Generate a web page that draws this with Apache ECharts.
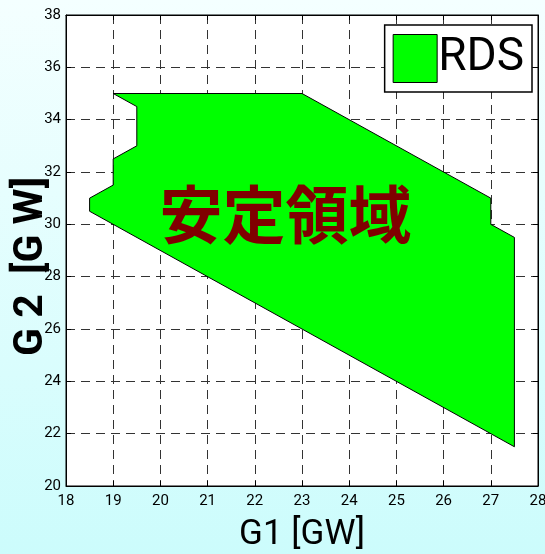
<!DOCTYPE html>
<html>
<head>
<meta charset="utf-8">
<script src="https://cdn.jsdelivr.net/npm/echarts@6/dist/echarts.min.js"></script>
<style>
html, body { margin: 0; padding: 0; }
#chart { width: 545px; height: 554px; }
</style>
</head>
<body>
<div id="chart"></div>
<script>
// 安定領域（RDS）の多角形頂点 [G1, G2]
var regionG1 = [19, 23, 27, 27, 27.5, 27.5, 18.5, 18.5, 19, 19, 19.5, 19.5];
var regionG2 = [35, 35, 31, 30, 29.5, 21.5, 30.5, 31, 31.5, 32.5, 33, 34.5];
var xTicks = [18, 28, 1];   // min, max, interval
var yTicks = [20, 38, 2];
var regionLabel = '安定領域';

var narrow = 'Roboto, "DejaVu Sans", sans-serif';
var points = regionG1.map(function (x, i) { return [x, regionG2[i]]; });

var chart = echarts.init(document.getElementById('chart'));
var gridLine = { show: true, lineStyle: { color: '#333', width: 1, type: [9, 6] } };

chart.setOption({
    backgroundColor: new echarts.graphic.LinearGradient(0, 0, 0, 1, [
        { offset: 0, color: '#f4ffff' },
        { offset: 1, color: '#ccfcfc' }
    ]),
    animation: false,
    grid: {
        left: 66, right: 7, top: 15, bottom: 68,
        outerBoundsMode: 'none', containLabel: false,
        show: true, backgroundColor: '#fff', borderColor: '#000', borderWidth: 1
    },
    legend: {
        right: 13, top: 25,
        orient: 'vertical',
        padding: [9, 8, 9, 8],
        itemWidth: 44, itemHeight: 48, itemGap: 0,
        backgroundColor: '#fff', borderColor: '#000', borderWidth: 1.5,
        selectedMode: false,
        data: [{ name: 'RDS', icon: 'rect', itemStyle: { color: '#00ff00', borderColor: '#000', borderWidth: 1 } }],
        textStyle: { fontFamily: narrow, fontSize: 46, color: '#000', padding: [0, 0, 0, -4] }
    },
    xAxis: [{
        type: 'value', min: xTicks[0], max: xTicks[1], interval: xTicks[2],
        name: 'G1 [GW]', nameLocation: 'middle', nameGap: 32,
        nameTextStyle: { fontFamily: narrow, fontSize: 35, color: '#000' },
        axisLine: { show: true, lineStyle: { color: '#000' } },
        axisTick: { show: true, inside: true, length: 5, lineStyle: { color: '#000' } },
        axisLabel: { fontFamily: narrow, fontSize: 15, color: '#000', margin: 8 },
        splitLine: gridLine
    }, {
        type: 'value', min: xTicks[0], max: xTicks[1], interval: xTicks[2], position: 'top',
        axisLine: { show: true, lineStyle: { color: '#000' } },
        axisTick: { show: true, inside: true, length: 5, lineStyle: { color: '#000' } },
        axisLabel: { show: false }, splitLine: { show: false }
    }],
    yAxis: [{
        type: 'value', min: yTicks[0], max: yTicks[1], interval: yTicks[2],
        name: 'G 2  [G W]', nameLocation: 'middle', nameGap: 14, nameMoveOverlap: false,
        nameTextStyle: { fontFamily: narrow, fontWeight: 'bold', fontSize: 41, color: '#000', padding: [0, 32, 0, 0] },
        axisLine: { show: true, lineStyle: { color: '#000' } },
        axisTick: { show: true, inside: true, length: 5, lineStyle: { color: '#000' } },
        axisLabel: { fontFamily: narrow, fontSize: 15, color: '#000', margin: 5 },
        splitLine: gridLine
    }, {
        type: 'value', min: yTicks[0], max: yTicks[1], interval: yTicks[2], position: 'right',
        axisLine: { show: true, lineStyle: { color: '#000' } },
        axisTick: { show: true, inside: true, length: 5, lineStyle: { color: '#000' } },
        axisLabel: { show: false }, splitLine: { show: false }
    }],
    series: [{
        name: 'RDS',
        type: 'custom',
        data: points,
        itemStyle: { color: '#00ff00' },
        renderItem: function (params, api) {
            if (params.context.rendered) return;
            params.context.rendered = true;
            var pts = points.map(function (p) { return api.coord(p); });
            var c = api.coord([22.65, 30.4]);
            return {
                type: 'group',
                children: [{
                    type: 'polygon',
                    shape: { points: pts },
                    style: { fill: '#00ff00', stroke: '#000', lineWidth: 1 }
                }, {
                    type: 'text',
                    x: c[0], y: c[1],
                    style: {
                        text: regionLabel,
                        fill: '#800000',
                        font: 'bold 63px "Noto Sans CJK JP"',
                        align: 'center', verticalAlign: 'middle'
                    }
                }]
            };
        }
    }]
});
</script>
</body>
</html>
